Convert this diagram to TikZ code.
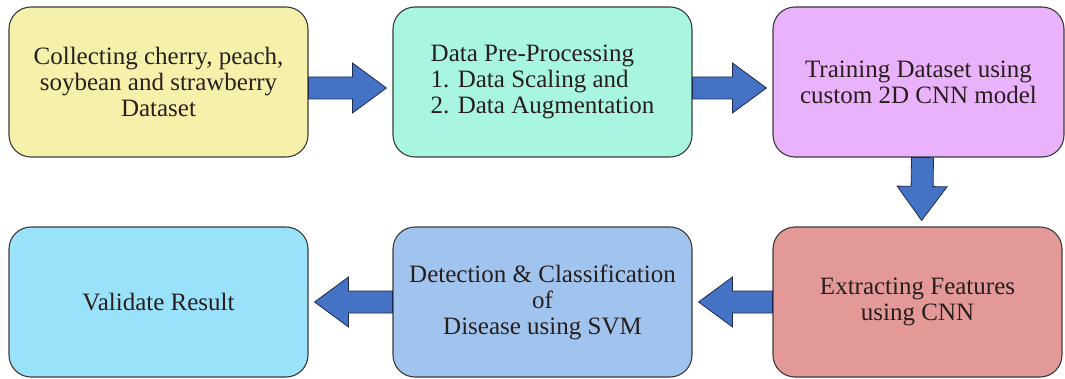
\documentclass[tikz,border=0pt]{standalone}
\usepackage{fontspec}
\setmainfont{Liberation Serif}
\usepackage{tikz}
\usetikzlibrary{calc,positioning}
\usepackage{xcolor}
\newcommand{\boxw}{299pt}
\newcommand{\boxh}{150pt}
\newcommand{\shaftw}{11pt}
\newcommand{\headw}{25pt}
\newcommand{\headlen}{34pt}
\definecolor{yelcl}{RGB}{246,241,170}
\definecolor{aqcl}{RGB}{168,245,226}
\definecolor{lvcl}{RGB}{234,178,250}
\definecolor{rdcl}{RGB}{228,153,153}
\definecolor{blcl}{RGB}{160,196,238}
\definecolor{cycl}{RGB}{154,226,250}
\definecolor{arrcl}{RGB}{68,114,196}
\definecolor{arredge}{RGB}{30,42,80}
\definecolor{edgecl}{RGB}{58,58,58}
\definecolor{txtcl}{RGB}{40,30,30}
\tikzset{
    stagesty/.style={draw=edgecl,line width=1.1pt,rectangle,rounded corners=22pt,
        minimum width=\boxw,minimum height=\boxh,align=center,text=txtcl,
        font=\fontsize{25}{26}\selectfont,anchor=center},
    arrsty/.style={fill=arrcl,draw=arredge,line width=0.8pt,line join=miter},
}
% block arrow from #1 to a little before #2
\newcommand{\blockarrow}[2]{%
  \coordinate (ta) at (#1);
  \coordinate (tb) at ($(#2)!6pt!(#1)$);
  \coordinate (hb) at ($(tb)!\headlen!(ta)$);
  \draw[arrsty] ($(ta)!\shaftw!90:(tb)$) -- ($(hb)!\shaftw!-90:(ta)$)
    -- ($(hb)!\headw!-90:(ta)$) -- (tb) -- ($(hb)!\headw!90:(ta)$)
    -- ($(hb)!\shaftw!90:(ta)$) -- ($(ta)!\shaftw!-90:(tb)$) -- cycle;
}
\begin{document}
\begin{tikzpicture}[x=1pt,y=1pt]
  \useasboundingbox (0,0) rectangle (1065,378);

  \node[stagesty,fill=yelcl] (collect) at (158.5,296)
    {Collecting cherry, peach,\\soybean and strawberry\\Dataset};
  \node[stagesty,fill=aqcl,align=left] (prep) at (542.5,296)
    {Data Pre-Processing\\1. Data Scaling and\\2. Data Augmentation};
  \node[stagesty,fill=lvcl,minimum width=291pt] (train) at (918.5,296)
    {Training Dataset using\\custom 2D CNN model};
  \node[stagesty,fill=rdcl,minimum width=289pt] (extract) at (917.5,76)
    {Extracting Features\\using CNN};
  \node[stagesty,fill=blcl] (detect) at (542.5,76)
    {Detection \& Classification\\of\\Disease using SVM};
  \node[stagesty,fill=cycl] (valid) at (158.5,76) {Validate Result};

  \blockarrow{[yshift=-6pt]collect.east}{[yshift=-6pt]prep.west}
  \blockarrow{[yshift=-6pt]prep.east}{[yshift=-6pt]train.west}
  \blockarrow{[xshift=4pt]train.south}{[xshift=4pt]extract.north}
  \blockarrow{extract.west}{detect.east}
  \blockarrow{detect.west}{valid.east}
\end{tikzpicture}
\end{document}
